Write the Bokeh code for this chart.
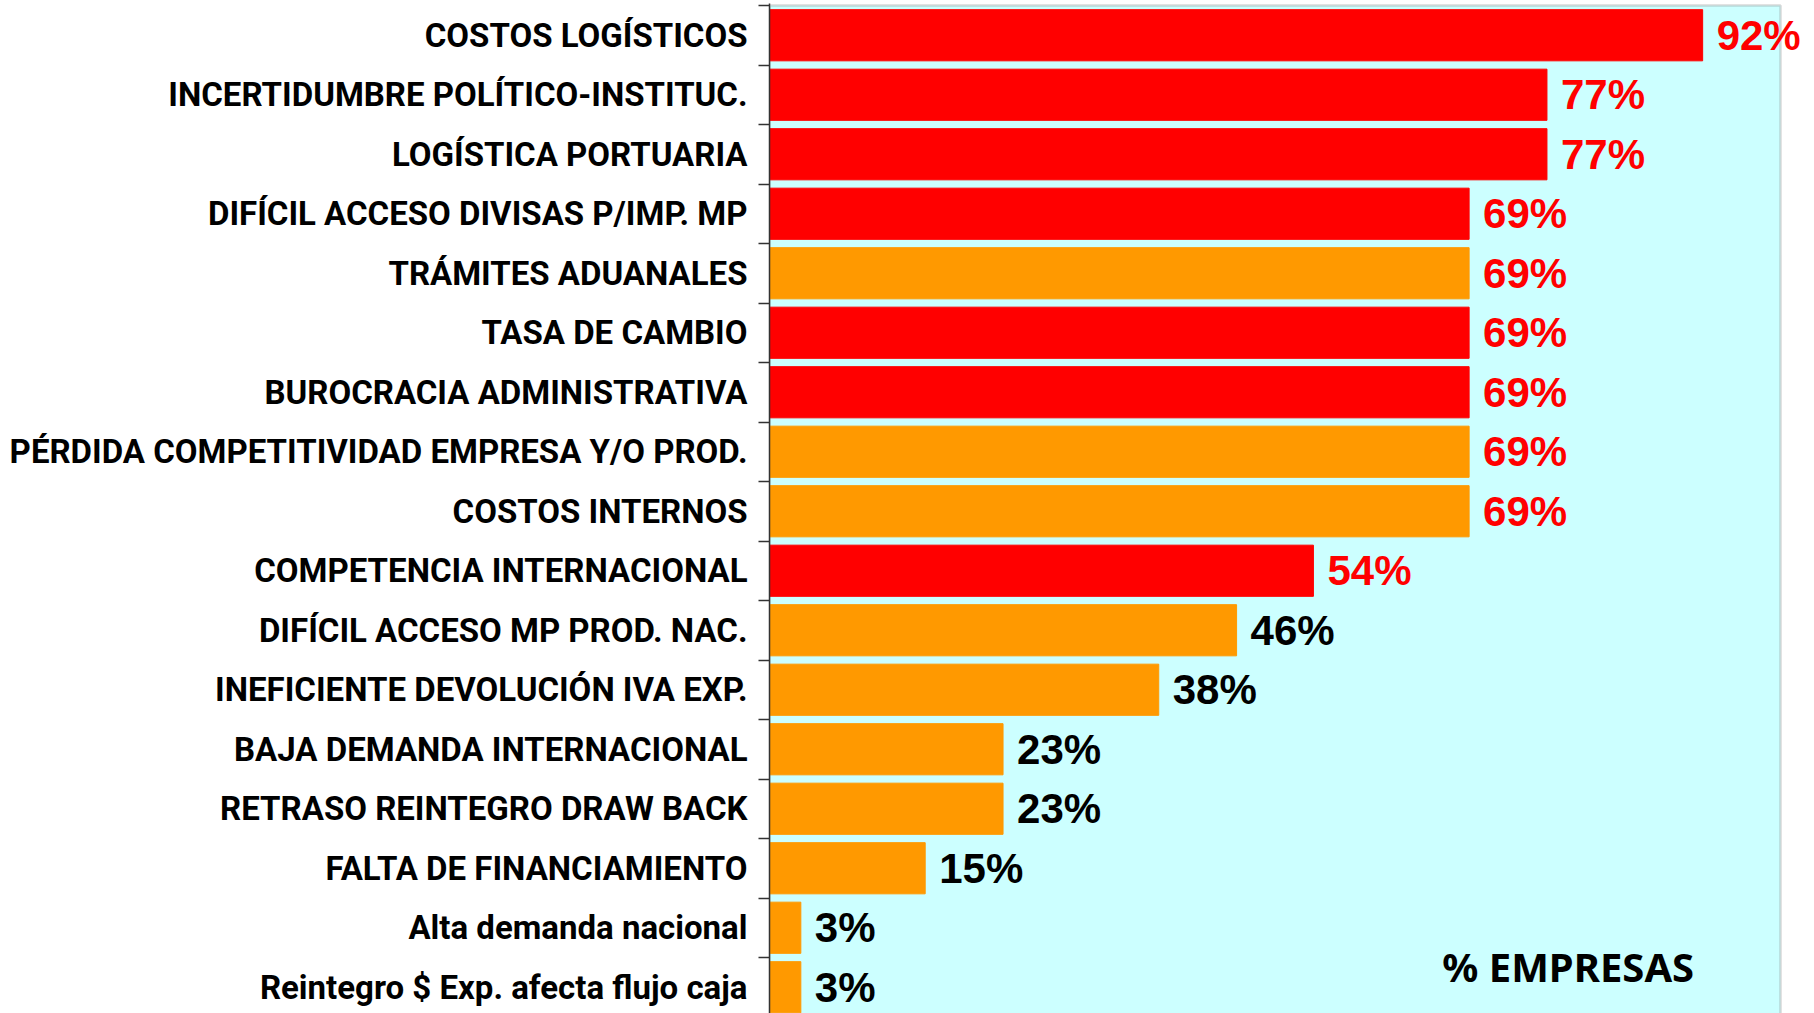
from bokeh.plotting import figure
from bokeh.models import ColumnDataSource, FixedTicker, Label, Range1d, BoxAnnotation
from bokeh.embed import file_html
from bokeh.resources import INLINE

categorias = [
    "COSTOS LOGÍSTICOS",
    "INCERTIDUMBRE POLÍTICO-INSTITUC.",
    "LOGÍSTICA PORTUARIA",
    "DIFÍCIL ACCESO DIVISAS P/IMP. MP",
    "TRÁMITES ADUANALES",
    "TASA DE CAMBIO",
    "BUROCRACIA ADMINISTRATIVA",
    "PÉRDIDA COMPETITIVIDAD EMPRESA Y/O PROD.",
    "COSTOS INTERNOS",
    "COMPETENCIA INTERNACIONAL",
    "DIFÍCIL ACCESO MP PROD. NAC.",
    "INEFICIENTE DEVOLUCIÓN IVA EXP.",
    "BAJA DEMANDA INTERNACIONAL",
    "RETRASO REINTEGRO DRAW BACK",
    "FALTA DE FINANCIAMIENTO",
    "Alta demanda nacional",
    "Reintegro $ Exp. afecta flujo caja",
]
porcentaje = [92.3, 76.9, 76.9, 69.2, 69.2, 69.2, 69.2, 69.2, 69.2, 53.8,
              46.2, 38.5, 23.1, 23.1, 15.4, 3.1, 3.1]
grupo = ["rojo", "rojo", "rojo", "rojo", "naranja", "rojo", "rojo", "naranja",
         "naranja", "rojo", "naranja", "naranja", "naranja", "naranja",
         "naranja", "naranja", "naranja"]

COLOR_BARRA = {"rojo": "#FF0000", "naranja": "#FF9900"}

n = len(categorias)
ypos = [n - 1 - i for i in range(n)]
source = ColumnDataSource(dict(
    y=ypos,
    v=porcentaje,
    color=[COLOR_BARRA[g] for g in grupo],
))

W, H = 1814, 1013
left_px, axis_right_px = 769, 1780     # plot-area box in page pixels
top_px = 3
band_px = 59.5
px_per_unit = (axis_right_px - left_px) / 100.0

top = n - 0.5 + 2 / band_px
bottom = top - (H - top_px) / band_px
xmax = (W - left_px) / px_per_unit

p = figure(width=W, height=H, output_backend="svg", toolbar_location=None,
           x_range=Range1d(0, xmax), y_range=Range1d(bottom, top),
           x_axis_location=None, min_border_left=left_px, min_border_right=0,
           min_border_top=top_px, min_border_bottom=0)

p.background_fill_color = "white"
p.border_fill_color = "white"
p.outline_line_color = None
p.grid.visible = False

p.add_layout(BoxAnnotation(left=0, right=100, top=n - 0.5, bottom=bottom - 1,
                           fill_color="#CCFFFF", fill_alpha=1,
                           line_color="#808080", line_width=2.5, level="underlay"))

p.hbar(y="y", right="v", left=0, height=0.86, color="color", source=source)

ax = p.yaxis[0]
ax.ticker = FixedTicker(ticks=ypos, minor_ticks=[k + 0.5 for k in range(-1, n)])
ax.major_label_overrides = {y: c for y, c in zip(ypos, categorias)}
ax.major_tick_out = 0
ax.major_tick_in = 0
ax.minor_tick_out = 11
ax.minor_tick_in = 0
ax.minor_tick_line_color = "#333333"
ax.minor_tick_line_width = 1.5
ax.axis_line_color = "#333333"
ax.axis_line_width = 1.5
ax.major_label_standoff = 11
ax.major_label_text_font = "Roboto"
ax.major_label_text_font_style = "bold"
ax.major_label_text_font_size = "33px"
ax.major_label_text_color = "black"

for y, v in zip(ypos, porcentaje):
    p.add_layout(Label(x=v, y=y, x_offset=14, text=f"{round(v)}%",
                       text_baseline="middle", text_align="left",
                       text_font="Liberation Sans", text_font_style="bold",
                       text_font_size="42px",
                       text_color="#FF0000" if v >= 50 else "#000000"))

p.add_layout(Label(x=79, y=0.35, text="% EMPRESAS", text_align="center",
                   text_baseline="middle", text_font="Noto Sans", text_font_style="bold",
                   text_font_size="40px", text_color="black"))

open("out.html", "w").write(file_html(p, INLINE))
